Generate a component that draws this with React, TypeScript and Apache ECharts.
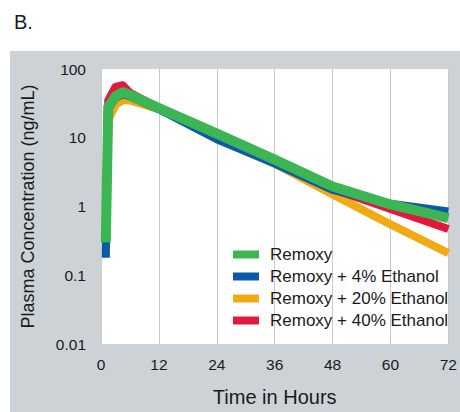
import React, { useEffect, useRef } from "react";
import * as echarts from "echarts";

const hours = [1, 1.5, 3, 4.5, 6, 12, 24, 36, 48, 60, 72];
const remoxy = [0.3, 28, 40, 46, 42, 27, 11.5, 4.8, 1.95, 1.07, 0.68];
const ethanol4 = [0.18, 26, 38, 43, 40, 26, 9.5, 4.2, 1.75, 1.1, 0.85];
const ethanol20 = [0.5, 18, 30, 35, 35, 26, 10.5, 4.2, 1.5, 0.55, 0.21];
const ethanol40 = [0.5, 35, 55, 58, 45, 27, 10.5, 4.4, 1.8, 0.92, 0.47];
const xTicks = [0, 12, 24, 36, 48, 60, 72];
const yTickLabels = ["0.01", "0.1", "1", "10", "100"];

const FONT = "Liberation Sans, Arial, sans-serif";

export default function App() {
  const ref = useRef<HTMLDivElement>(null);
  useEffect(() => {
    if (!ref.current) return;
    const chart = echarts.init(ref.current, null, { renderer: "svg" });
    const pair = (ys: number[]) => hours.map((h, i) => [h, ys[i]]);
    const mk = (name: string, ys: number[], color: string, z: number, w: number) => ({
      name,
      type: "line",
      data: pair(ys),
      showSymbol: false,
      symbol: "none",
      z,
      lineStyle: { color, width: w, join: "round", cap: "butt" },
      itemStyle: { color },
    });
    chart.setOption({
      animation: false,
      backgroundColor: "#ffffff",
      textStyle: { fontFamily: FONT },
      title: {
        text: "B.",
        left: 9,
        top: 7,
        textStyle: { fontSize: 20, fontWeight: "normal", color: "#1a1a1a", fontFamily: FONT },
      },
      graphic: [
        {
          type: "rect",
          z: -10,
          silent: true,
          shape: { x: 10, y: 51, width: 450, height: 361 },
          style: { fill: "#cdd2d6" },
        },
      ],
      legend: {
        data: ["Remoxy", "Remoxy + 4% Ethanol", "Remoxy + 20% Ethanol", "Remoxy + 40% Ethanol"],
        orient: "vertical",
        left: 228,
        top: 241,
        itemWidth: 26,
        itemHeight: 8,
        itemGap: 5,
        icon: "rect",
        textStyle: { fontSize: 17, color: "#1a1a1a", fontFamily: FONT, padding: [0, 0, 0, 6] },
      },
      grid: {
        left: 101,
        top: 69,
        width: 351,
        height: 277,
        show: true,
        backgroundColor: "#ffffff",
        borderWidth: 0,
      },
      xAxis: {
        type: "value",
        min: 0,
        max: 72,
        interval: 12,
        name: "Time in Hours",
        nameLocation: "middle",
        nameGap: 43,
        nameTextStyle: { fontSize: 20, color: "#1a1a1a", fontFamily: FONT },
        axisLine: { show: false },
        axisTick: { show: false },
        axisLabel: {
          fontSize: 15.5,
          color: "#1a1a1a",
          margin: 12,
          fontFamily: FONT,
          formatter: (v: number) => (xTicks.includes(v) ? String(v) : ""),
        },
        splitLine: { show: true, lineStyle: { color: "#c9c9c9", width: 1 } },
      },
      yAxis: {
        type: "log",
        logBase: 10,
        min: 0.01,
        max: 100,
        name: "Plasma Concentration (ng/mL)",
        nameLocation: "middle",
        nameGap: 64,
        nameTextStyle: { fontSize: 18, color: "#1a1a1a", fontFamily: FONT },
        axisLine: { show: false },
        axisTick: { show: false },
        splitLine: { show: false },
        axisLabel: {
          fontSize: 15.5,
          color: "#1a1a1a",
          margin: 15,
          fontFamily: FONT,
          formatter: (v: number) => {
            const e = Math.round(Math.log10(v));
            return yTickLabels[e + 2] ?? "";
          },
        },
      },
      series: [
        mk("Remoxy + 20% Ethanol", ethanol20, "#f0ab14", 2, 8),
        mk("Remoxy + 40% Ethanol", ethanol40, "#e0193f", 3, 8),
        mk("Remoxy + 4% Ethanol", ethanol4, "#0a5aa8", 4, 8),
        mk("Remoxy", remoxy, "#3cb554", 5, 10),
      ],
    });
    return () => chart.dispose();
  }, []);
  return (
    <div
      ref={ref}
      style={{ position: "fixed", left: 0, top: 0, width: 460, height: 412 }}
    />
  );
}
